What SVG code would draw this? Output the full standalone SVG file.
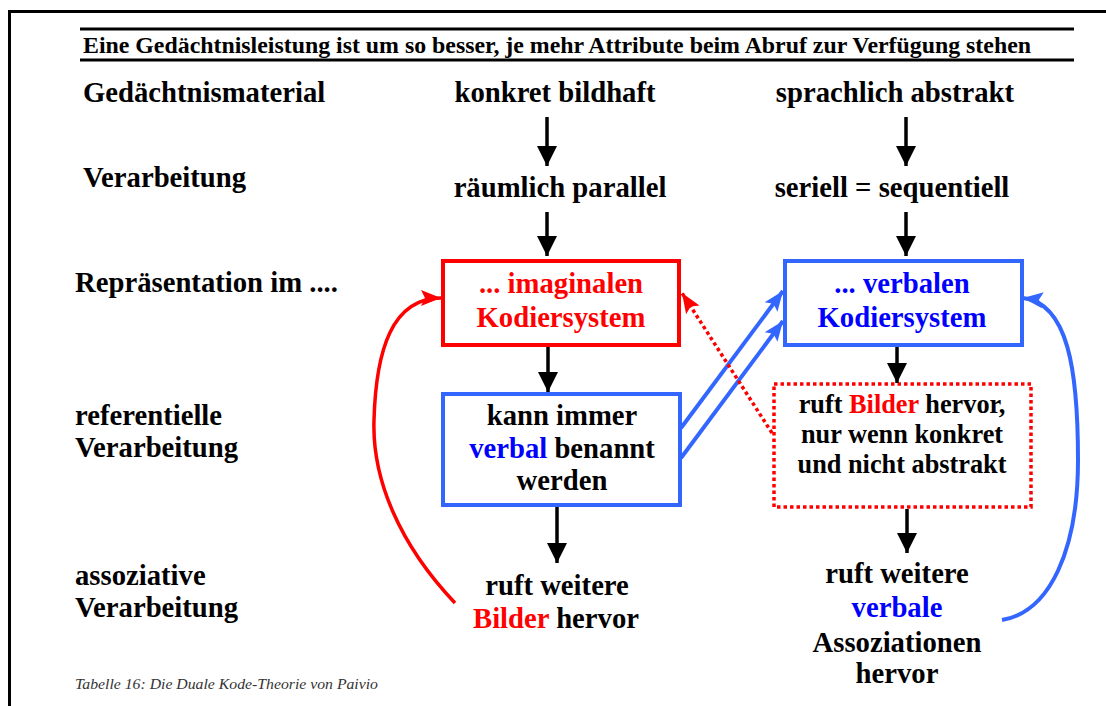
<svg xmlns="http://www.w3.org/2000/svg" width="1106" height="706" viewBox="0 0 1106 706">
  <style>
    text { font-family: 'Liberation Serif', 'DejaVu Serif', serif; font-weight: bold; font-size: 28.7px; fill: #000; }
    .c { text-anchor: middle; }
    .sm { font-size: 26.3px; }
    .red { fill: #ff0000; }
    .blue { fill: #0000ff; }
    .head { font-size: 23.6px; }
    .cap { font-weight: normal; font-style: italic; font-size: 15.5px; fill: #333; }
    .rule { stroke: #000; stroke-width: 3; fill: none; }
    .arrow { stroke: #000; stroke-width: 3.5; fill: none; marker-end: url(#ahBlack); }
    .blink { stroke: #3366ff; stroke-width: 4; fill: none; marker-end: url(#ahBlue); }
    .rlink { stroke: #ff0000; stroke-width: 3.5; fill: none; marker-end: url(#ahRed); }
    .rdot { stroke: #ff0000; stroke-width: 3.5; fill: none; stroke-dasharray: 3.5 3; marker-end: url(#ahRed); }
  </style>
  <defs>
    <marker id="ahBlack" markerUnits="userSpaceOnUse" markerWidth="20" markerHeight="20" viewBox="0 0 18 18" refX="18" refY="9" orient="auto">
      <path d="M0,0 L18,9 L0,18 Z" fill="#000"/>
    </marker>
    <marker id="ahBlue" markerUnits="userSpaceOnUse" markerWidth="20" markerHeight="18" viewBox="0 0 20 16" refX="20" refY="8" orient="auto">
      <path d="M0,0 L20,8 L0,16 L4,8 Z" fill="#3366ff"/>
    </marker>
    <marker id="ahRed" markerUnits="userSpaceOnUse" markerWidth="20" markerHeight="18" viewBox="0 0 20 16" refX="20" refY="8" orient="auto">
      <path d="M0,0 L20,8 L0,16 L4,8 Z" fill="#ff0000"/>
    </marker>
  </defs>

  <rect width="1106" height="706" fill="#fff"/>

  <!-- page frame -->
  <path class="rule" d="M9.5,706 V11.5 H1106"/>

  <g font-family="Liberation Serif, DejaVu Serif, serif">
  <!-- headline between two rules -->
  <g id="headline">
    <line class="rule" x1="80" y1="29" x2="1074" y2="29"/>
    <text class="head" x="83" y="53" textLength="948" lengthAdjust="spacingAndGlyphs">Eine Gedächtnisleistung ist um so besser, je mehr Attribute beim Abruf zur Verfügung stehen</text>
    <line class="rule" x1="80" y1="60" x2="1074" y2="60"/>
  </g>

  <!-- row labels -->
  <g id="row-labels">
    <text x="83" y="102">Gedächtnismaterial</text>
    <text x="83" y="187">Verarbeitung</text>
    <text x="75" y="292">Repräsentation im ....</text>
    <text x="75" y="425">referentielle</text>
    <text x="75" y="457">Verarbeitung</text>
    <text x="75" y="585">assoziative</text>
    <text x="75" y="617">Verarbeitung</text>
  </g>

  <!-- left column: imagery -->
  <g id="konkret">
    <text class="c" x="555" y="102">konkret bildhaft</text>
  </g>
  <g id="raeumlich">
    <text class="c" x="560" y="197">räumlich parallel</text>
  </g>
  <g id="imaginal">
    <rect x="443" y="261" width="236" height="84" fill="none" stroke="#ff0000" stroke-width="4"/>
    <text class="c red" x="561" y="293">... imaginalen</text>
    <text class="c red" x="561" y="327">Kodiersystem</text>
  </g>
  <g id="benannt">
    <rect x="443" y="394" width="237" height="111" fill="none" stroke="#3366ff" stroke-width="4"/>
    <text class="c" x="562" y="425">kann immer</text>
    <text class="c" x="562" y="458"><tspan class="blue">verbal</tspan> benannt</text>
    <text class="c" x="562" y="490">werden</text>
  </g>
  <g id="bilder-assoz">
    <text class="c" x="557" y="595">ruft weitere</text>
    <text class="c" x="556" y="628"><tspan class="red">Bilder</tspan> hervor</text>
  </g>

  <!-- right column: verbal -->
  <g id="sprachlich">
    <text class="c" x="895" y="102">sprachlich abstrakt</text>
  </g>
  <g id="seriell">
    <text class="c" x="892" y="197">seriell = sequentiell</text>
  </g>
  <g id="verbal">
    <rect x="785" y="261" width="237" height="84" fill="none" stroke="#3366ff" stroke-width="4"/>
    <text class="c blue" x="902" y="293">... verbalen</text>
    <text class="c blue" x="902" y="327">Kodiersystem</text>
  </g>
  <g id="bilder-wenn">
    <rect x="774" y="384" width="257" height="123" fill="none" stroke="#ff0000" stroke-width="3.5" stroke-dasharray="3.5 3"/>
    <text class="c sm" x="902" y="413">ruft <tspan class="red">Bilder</tspan> hervor,</text>
    <text class="c sm" x="902" y="443">nur wenn konkret</text>
    <text class="c sm" x="902" y="473">und nicht abstrakt</text>
  </g>
  <g id="verbal-assoz">
    <text class="c" x="897" y="583">ruft weitere</text>
    <text class="c blue" x="897" y="617">verbale</text>
    <text class="c" x="897" y="652">Assoziationen</text>
    <text class="c" x="897" y="683">hervor</text>
  </g>

  <!-- caption -->
  <g id="caption">
    <text class="cap" x="75" y="689" textLength="303" lengthAdjust="spacingAndGlyphs">Tabelle 16: Die Duale Kode-Theorie von Paivio</text>
  </g>
  </g>

  <!-- connectors -->
  <g id="connectors">
    <line class="arrow" x1="547" y1="117" x2="547" y2="166"/>
    <line class="arrow" x1="547" y1="212" x2="547" y2="256"/>
    <line class="arrow" x1="548" y1="347" x2="548" y2="392"/>
    <line class="arrow" x1="557" y1="507" x2="557" y2="563"/>
    <line class="arrow" x1="906" y1="117" x2="906" y2="166"/>
    <line class="arrow" x1="906" y1="212" x2="906" y2="256"/>
    <line class="arrow" x1="897" y1="347" x2="897" y2="383"/>
    <line class="arrow" x1="907" y1="509" x2="907" y2="553"/>

    <line class="blink" x1="681" y1="428" x2="783" y2="291"/>
    <line class="blink" x1="681" y1="458" x2="783" y2="321"/>

    <line class="rdot" x1="772" y1="433" x2="682" y2="293"/>

    <path class="rlink" d="M455,603 C400,545 372,480 374,420 C376,350 392,298 441,298"/>
    <path class="blink" d="M1002,620 C1050,612 1078,550 1078,460 C1078,370 1068,303 1023,298"/>
  </g>
</svg>
